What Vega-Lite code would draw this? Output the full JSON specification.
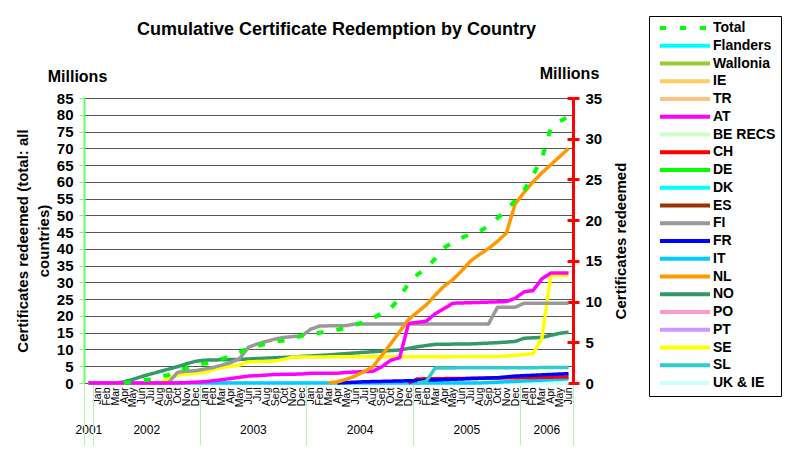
{
  "$schema": "https://vega.github.io/schema/vega-lite/v6.json",
  "width": 489,
  "height": 285,
  "autosize": {"type": "none"},
  "padding": {"left": 84, "top": 98, "right": 215, "bottom": 69},
  "background": "white",
  "title": {"text": "Cumulative Certificate Redemption by Country", "fontSize": 18, "fontWeight": "bold", "font": "Liberation Sans", "color": "black", "anchor": "middle", "frame": "group", "dx": 8, "offset": -23},
  "datasets": {
    "total": [
      {"m": 4, "v": 0}, {"m": 5, "v": 0.3}, {"m": 6, "v": 0.7}, {"m": 7, "v": 1.1}, {"m": 8, "v": 1.8}, {"m": 9, "v": 2.4},
      {"m": 10, "v": 3.5}, {"m": 11, "v": 4.5}, {"m": 12, "v": 5.4}, {"m": 13, "v": 5.8}, {"m": 14, "v": 6.2}, {"m": 15, "v": 7.2},
      {"m": 16, "v": 8.0}, {"m": 17, "v": 9.1}, {"m": 18, "v": 10.5}, {"m": 19, "v": 11.0}, {"m": 20, "v": 11.7}, {"m": 21, "v": 12.3},
      {"m": 22, "v": 12.7}, {"m": 23, "v": 13.3}, {"m": 24, "v": 14.1}, {"m": 25, "v": 14.5}, {"m": 26, "v": 15.0}, {"m": 27, "v": 15.4},
      {"m": 28, "v": 15.9}, {"m": 29, "v": 16.4}, {"m": 30, "v": 17.3}, {"m": 31, "v": 18.3}, {"m": 32, "v": 19.3}, {"m": 33, "v": 20.8},
      {"m": 34, "v": 22.3}, {"m": 35, "v": 25.3}, {"m": 36, "v": 29.8}, {"m": 37, "v": 32.3}, {"m": 38, "v": 34.3}, {"m": 39, "v": 37.1},
      {"m": 40, "v": 40.3}, {"m": 41, "v": 42.0}, {"m": 42, "v": 43.4}, {"m": 43, "v": 44.3}, {"m": 44, "v": 45.2}, {"m": 45, "v": 46.9},
      {"m": 46, "v": 49.2}, {"m": 47, "v": 51.5}, {"m": 48, "v": 54.5}, {"m": 49, "v": 57.5}, {"m": 50, "v": 62.0}, {"m": 51, "v": 67.0},
      {"m": 52, "v": 76.0}, {"m": 53, "v": 78.0}, {"m": 54, "v": 79.5}
    ],
    "c": [
      {"s": "UK & IE", "m": 0, "v": 0}, {"s": "UK & IE", "m": 54, "v": 0},
      {"s": "IT", "m": 0, "v": 0}, {"s": "IT", "m": 44, "v": 0}, {"s": "IT", "m": 54, "v": 0.5},
      {"s": "CH", "m": 36, "v": 0}, {"s": "CH", "m": 37, "v": 0.5}, {"s": "CH", "m": 45, "v": 0.6}, {"s": "CH", "m": 54, "v": 0.75},
      {"s": "FR", "m": 28, "v": 0}, {"s": "FR", "m": 31, "v": 0.15}, {"s": "FR", "m": 37, "v": 0.3}, {"s": "FR", "m": 42, "v": 0.5}, {"s": "FR", "m": 46, "v": 0.65}, {"s": "FR", "m": 48, "v": 0.85}, {"s": "FR", "m": 50, "v": 0.95}, {"s": "FR", "m": 54, "v": 1.15},
      {"s": "SL", "m": 37, "v": 0}, {"s": "SL", "m": 38, "v": 0.2}, {"s": "SL", "m": 39, "v": 1.85}, {"s": "SL", "m": 54, "v": 1.9},
      {"s": "NO", "m": 0, "v": 0}, {"s": "NO", "m": 3, "v": 0}, {"s": "NO", "m": 4, "v": 0.15}, {"s": "NO", "m": 5, "v": 0.45}, {"s": "NO", "m": 6, "v": 0.8}, {"s": "NO", "m": 7, "v": 1.1}, {"s": "NO", "m": 8, "v": 1.4}, {"s": "NO", "m": 9, "v": 1.7}, {"s": "NO", "m": 10, "v": 2.0}, {"s": "NO", "m": 11, "v": 2.35}, {"s": "NO", "m": 12, "v": 2.65}, {"s": "NO", "m": 13, "v": 2.8}, {"s": "NO", "m": 17, "v": 2.9}, {"s": "NO", "m": 23, "v": 3.2}, {"s": "NO", "m": 27, "v": 3.45}, {"s": "NO", "m": 32, "v": 3.85}, {"s": "NO", "m": 35, "v": 4.05}, {"s": "NO", "m": 37, "v": 4.45}, {"s": "NO", "m": 39, "v": 4.75}, {"s": "NO", "m": 43, "v": 4.8}, {"s": "NO", "m": 46, "v": 4.95}, {"s": "NO", "m": 48, "v": 5.1}, {"s": "NO", "m": 49, "v": 5.5}, {"s": "NO", "m": 51, "v": 5.6}, {"s": "NO", "m": 53, "v": 6.1}, {"s": "NO", "m": 54, "v": 6.25},
      {"s": "SE", "m": 0, "v": 0}, {"s": "SE", "m": 8, "v": 0}, {"s": "SE", "m": 9, "v": 0.6}, {"s": "SE", "m": 10, "v": 0.95}, {"s": "SE", "m": 11, "v": 1.1}, {"s": "SE", "m": 12, "v": 1.2}, {"s": "SE", "m": 13, "v": 1.3}, {"s": "SE", "m": 14, "v": 1.6}, {"s": "SE", "m": 15, "v": 1.9}, {"s": "SE", "m": 16, "v": 2.05}, {"s": "SE", "m": 17, "v": 2.2}, {"s": "SE", "m": 18, "v": 2.6}, {"s": "SE", "m": 21, "v": 2.7}, {"s": "SE", "m": 22, "v": 2.9}, {"s": "SE", "m": 23, "v": 3.2}, {"s": "SE", "m": 46, "v": 3.25}, {"s": "SE", "m": 48, "v": 3.4}, {"s": "SE", "m": 50, "v": 3.6}, {"s": "SE", "m": 51, "v": 5.5}, {"s": "SE", "m": 52, "v": 13.2}, {"s": "SE", "m": 54, "v": 13.2},
      {"s": "FI", "m": 0, "v": 0}, {"s": "FI", "m": 9, "v": 0}, {"s": "FI", "m": 10, "v": 1.3}, {"s": "FI", "m": 11, "v": 1.45}, {"s": "FI", "m": 12, "v": 1.5}, {"s": "FI", "m": 13, "v": 1.7}, {"s": "FI", "m": 14, "v": 1.9}, {"s": "FI", "m": 15, "v": 2.2}, {"s": "FI", "m": 16, "v": 2.5}, {"s": "FI", "m": 17, "v": 3.0}, {"s": "FI", "m": 18, "v": 4.4}, {"s": "FI", "m": 19, "v": 4.8}, {"s": "FI", "m": 20, "v": 5.1}, {"s": "FI", "m": 21, "v": 5.4}, {"s": "FI", "m": 22, "v": 5.6}, {"s": "FI", "m": 24, "v": 5.8}, {"s": "FI", "m": 25, "v": 6.6}, {"s": "FI", "m": 26, "v": 7.0}, {"s": "FI", "m": 29, "v": 7.05}, {"s": "FI", "m": 30, "v": 7.25}, {"s": "FI", "m": 45, "v": 7.25}, {"s": "FI", "m": 46, "v": 9.3}, {"s": "FI", "m": 48, "v": 9.3}, {"s": "FI", "m": 49, "v": 9.8}, {"s": "FI", "m": 54, "v": 9.8},
      {"s": "AT", "m": 0, "v": 0}, {"s": "AT", "m": 10, "v": 0}, {"s": "AT", "m": 13, "v": 0.15}, {"s": "AT", "m": 15, "v": 0.4}, {"s": "AT", "m": 16, "v": 0.55}, {"s": "AT", "m": 17, "v": 0.7}, {"s": "AT", "m": 18, "v": 0.85}, {"s": "AT", "m": 19, "v": 0.9}, {"s": "AT", "m": 21, "v": 1.05}, {"s": "AT", "m": 24, "v": 1.1}, {"s": "AT", "m": 25, "v": 1.2}, {"s": "AT", "m": 28, "v": 1.2}, {"s": "AT", "m": 29, "v": 1.3}, {"s": "AT", "m": 32, "v": 1.45}, {"s": "AT", "m": 33, "v": 2.0}, {"s": "AT", "m": 34, "v": 2.8}, {"s": "AT", "m": 35, "v": 3.1}, {"s": "AT", "m": 36, "v": 7.3}, {"s": "AT", "m": 38, "v": 7.6}, {"s": "AT", "m": 39, "v": 8.5}, {"s": "AT", "m": 41, "v": 9.8}, {"s": "AT", "m": 47, "v": 10.0}, {"s": "AT", "m": 48, "v": 10.4}, {"s": "AT", "m": 49, "v": 11.2}, {"s": "AT", "m": 50, "v": 11.35}, {"s": "AT", "m": 51, "v": 12.8}, {"s": "AT", "m": 52, "v": 13.5}, {"s": "AT", "m": 54, "v": 13.5},
      {"s": "NL", "m": 27, "v": 0}, {"s": "NL", "m": 28, "v": 0.15}, {"s": "NL", "m": 29, "v": 0.45}, {"s": "NL", "m": 30, "v": 0.85}, {"s": "NL", "m": 31, "v": 1.4}, {"s": "NL", "m": 32, "v": 2.0}, {"s": "NL", "m": 33, "v": 3.4}, {"s": "NL", "m": 34, "v": 4.8}, {"s": "NL", "m": 35, "v": 6.3}, {"s": "NL", "m": 36, "v": 7.8}, {"s": "NL", "m": 37, "v": 8.7}, {"s": "NL", "m": 38, "v": 9.6}, {"s": "NL", "m": 39, "v": 10.8}, {"s": "NL", "m": 40, "v": 11.9}, {"s": "NL", "m": 41, "v": 12.7}, {"s": "NL", "m": 42, "v": 13.8}, {"s": "NL", "m": 43, "v": 15.0}, {"s": "NL", "m": 44, "v": 15.8}, {"s": "NL", "m": 45, "v": 16.5}, {"s": "NL", "m": 46, "v": 17.4}, {"s": "NL", "m": 47, "v": 18.4}, {"s": "NL", "m": 48, "v": 22.0}, {"s": "NL", "m": 49, "v": 23.4}, {"s": "NL", "m": 50, "v": 24.7}, {"s": "NL", "m": 51, "v": 25.8}, {"s": "NL", "m": 52, "v": 26.8}, {"s": "NL", "m": 53, "v": 27.8}, {"s": "NL", "m": 54, "v": 28.8}
    ]
  },
  "layer": [
    {
      "data": {"name": "c"},
      "mark": {"type": "line", "strokeWidth": 3.5, "strokeCap": "butt", "strokeJoin": "round"},
      "encoding": {
        "x": {"field": "m", "type": "quantitative", "scale": {"domain": [-0.5, 54.5], "nice": false, "zero": false},
          "axis": {"orient": "bottom", "values": [0,1,2,3,4,5,6,7,8,9,10,11,12,13,14,15,16,17,18,19,20,21,22,23,24,25,26,27,28,29,30,31,32,33,34,35,36,37,38,39,40,41,42,43,44,45,46,47,48,49,50,51,52,53,54],
            "labelExpr": "datum.value == 0 ? '' : ['Dec','Jan','Feb','Mar','Apr','May','Jun','Jul','Aug','Sep','Oct','Nov'][datum.value % 12]",
            "labelAngle": -90, "labelFontSize": 10.5, "labelColor": "black", "ticks": false, "domain": false, "labelPadding": 4, "grid": false, "title": null, "labelOverlap": false, "labelFlush": false}},
        "y": {"field": "v", "type": "quantitative", "scale": {"domain": [0, 35], "nice": false},
          "axis": {"orient": "right", "values": [0,5,10,15,20,25,30,35], "domainColor": "red", "domainWidth": 3, "tickColor": "red", "tickWidth": 3, "tickSize": 6, "labelFontSize": 15, "labelFontWeight": "bold", "labelColor": "black", "labelPadding": 6, "grid": false,
            "title": "Millions", "titleAngle": 0, "titleX": -4, "titleY": -20, "titleAlign": "center", "titleBaseline": "alphabetic", "titleFontSize": 16, "titleFontWeight": "bold", "titleColor": "black"}},
        "color": {"field": "s", "type": "nominal",
          "scale": {"domain": ["Total","Flanders","Wallonia","IE","TR","AT","BE RECS","CH","DE","DK","ES","FI","FR","IT","NL","NO","PO","PT","SE","SL","UK & IE"],
            "range": ["#00FF00","#00FFFF","#99CC33","#FFCC66","#FFC080","#FF00FF","#CCFFCC","#FF0000","#00FF00","#00FFFF","#993300","#999999","#0000FF","#00CCFF","#FF9900","#339966","#FF99CC","#CC99FF","#FFFF00","#33CCCC","#CCFFFF"]},
          "legend": {"orient": "none", "legendX": 565, "legendY": -82, "title": null, "symbolType": "M-5,0H5", "symbolSize": 100, "symbolStrokeWidth": 4, "labelFontSize": 14, "labelFontWeight": "bold", "labelColor": "black", "strokeColor": "black", "fillColor": "white", "padding": 5, "rowPadding": 1.75, "symbolOffset": 24, "labelOffset": 21, "labelLimit": 200}},
        "strokeDash": {"field": "s", "type": "nominal",
          "scale": {"domain": ["Total","Flanders","Wallonia","IE","TR","AT","BE RECS","CH","DE","DK","ES","FI","FR","IT","NL","NO","PO","PT","SE","SL","UK & IE"],
            "range": [[6,14],[1,0],[1,0],[1,0],[1,0],[1,0],[1,0],[1,0],[1,0],[1,0],[1,0],[1,0],[1,0],[1,0],[1,0],[1,0],[1,0],[1,0],[1,0],[1,0],[1,0]]}}
      }
    },
    {
      "data": {"name": "total"},
      "mark": {"type": "line", "color": "#00FF00", "strokeWidth": 4, "strokeDash": [7, 13]},
      "encoding": {
        "x": {"field": "m", "type": "quantitative", "scale": {"domain": [-0.5, 54.5], "nice": false, "zero": false},
          "axis": {"orient": "bottom", "values": [0, 6.5, 18.5, 30.5, 42.5, 51.5], "labelExpr": "'' + (2001 + ceil(datum.value / 12))", "ticks": false, "domain": false, "labelPadding": 41, "labelFontSize": 12, "labelColor": "black", "labelAngle": 0, "grid": false, "title": null, "labelOverlap": false, "labelFlush": false}},
        "y": {"field": "v", "type": "quantitative", "scale": {"domain": [0, 85], "nice": false},
          "axis": {"orient": "left", "values": [0,5,10,15,20,25,30,35,40,45,50,55,60,65,70,75,80,85], "grid": true, "gridColor": "#555555", "gridWidth": 1, "domainColor": "#66FF66", "domainWidth": 2, "tickColor": "#66FF66", "tickSize": 5, "labelFontSize": 15, "labelFontWeight": "bold", "labelColor": "black", "labelPadding": 6, "labelOverlap": false,
            "title": "Millions", "titleAngle": 0, "titleX": -7, "titleY": -17, "titleAlign": "center", "titleBaseline": "alphabetic", "titleFontSize": 16, "titleFontWeight": "bold", "titleColor": "black"}}
      }
    },
    {
      "data": {"name": "total"},
      "mark": {"type": "line", "strokeOpacity": 0},
      "encoding": {
        "x": {"field": "m", "type": "quantitative", "scale": {"domain": [-0.5, 54.5], "nice": false, "zero": false},
          "axis": {"orient": "bottom", "values": [-0.5, 0.5, 12.5, 24.5, 36.5, 48.5, 54.5], "labels": false, "ticks": true, "tickColor": "#B8EEB8", "tickSize": 62, "tickWidth": 1, "domain": false, "grid": false, "title": null}},
        "y": {"field": "v", "type": "quantitative", "scale": {"domain": [0, 85], "nice": false},
          "axis": {"orient": "left", "labels": false, "ticks": false, "domain": false, "grid": false,
            "title": ["Certificates redeemed (total: all", "countries)"], "titleAngle": -90, "titleX": -69, "titleY": 142.5, "titleAlign": "center", "titleBaseline": "top", "titleFontSize": 15, "titleFontWeight": "bold", "titleColor": "black", "titleLineHeight": 21}}
      }
    },
    {
      "data": {"name": "c"},
      "mark": {"type": "point", "opacity": 0},
      "encoding": {
        "x": {"field": "m", "type": "quantitative", "scale": {"domain": [-0.5, 54.5], "nice": false, "zero": false}, "axis": null},
        "y": {"field": "v", "type": "quantitative", "scale": {"domain": [0, 35], "nice": false},
          "axis": {"orient": "right", "values": [0,5,10,15,20,25,30,35], "labels": false, "ticks": true, "tickColor": "red", "tickWidth": 3, "tickSize": -6, "domain": false, "grid": false,
            "title": "Certificates redeemed", "titleAngle": -90, "titleX": 47, "titleY": 142.5, "titleAlign": "center", "titleBaseline": "middle", "titleFontSize": 15, "titleFontWeight": "bold", "titleColor": "black"}}
      }
    }
  ],
  "resolve": {"scale": {"y": "independent"}, "axis": {"x": "independent", "y": "independent"}},
  "config": {
    "font": "Liberation Sans",
    "axis": {"labelFont": "Liberation Sans", "titleFont": "Liberation Sans"},
    "legend": {"labelFont": "Liberation Sans"},
    "view": {"stroke": null}
  }
}
